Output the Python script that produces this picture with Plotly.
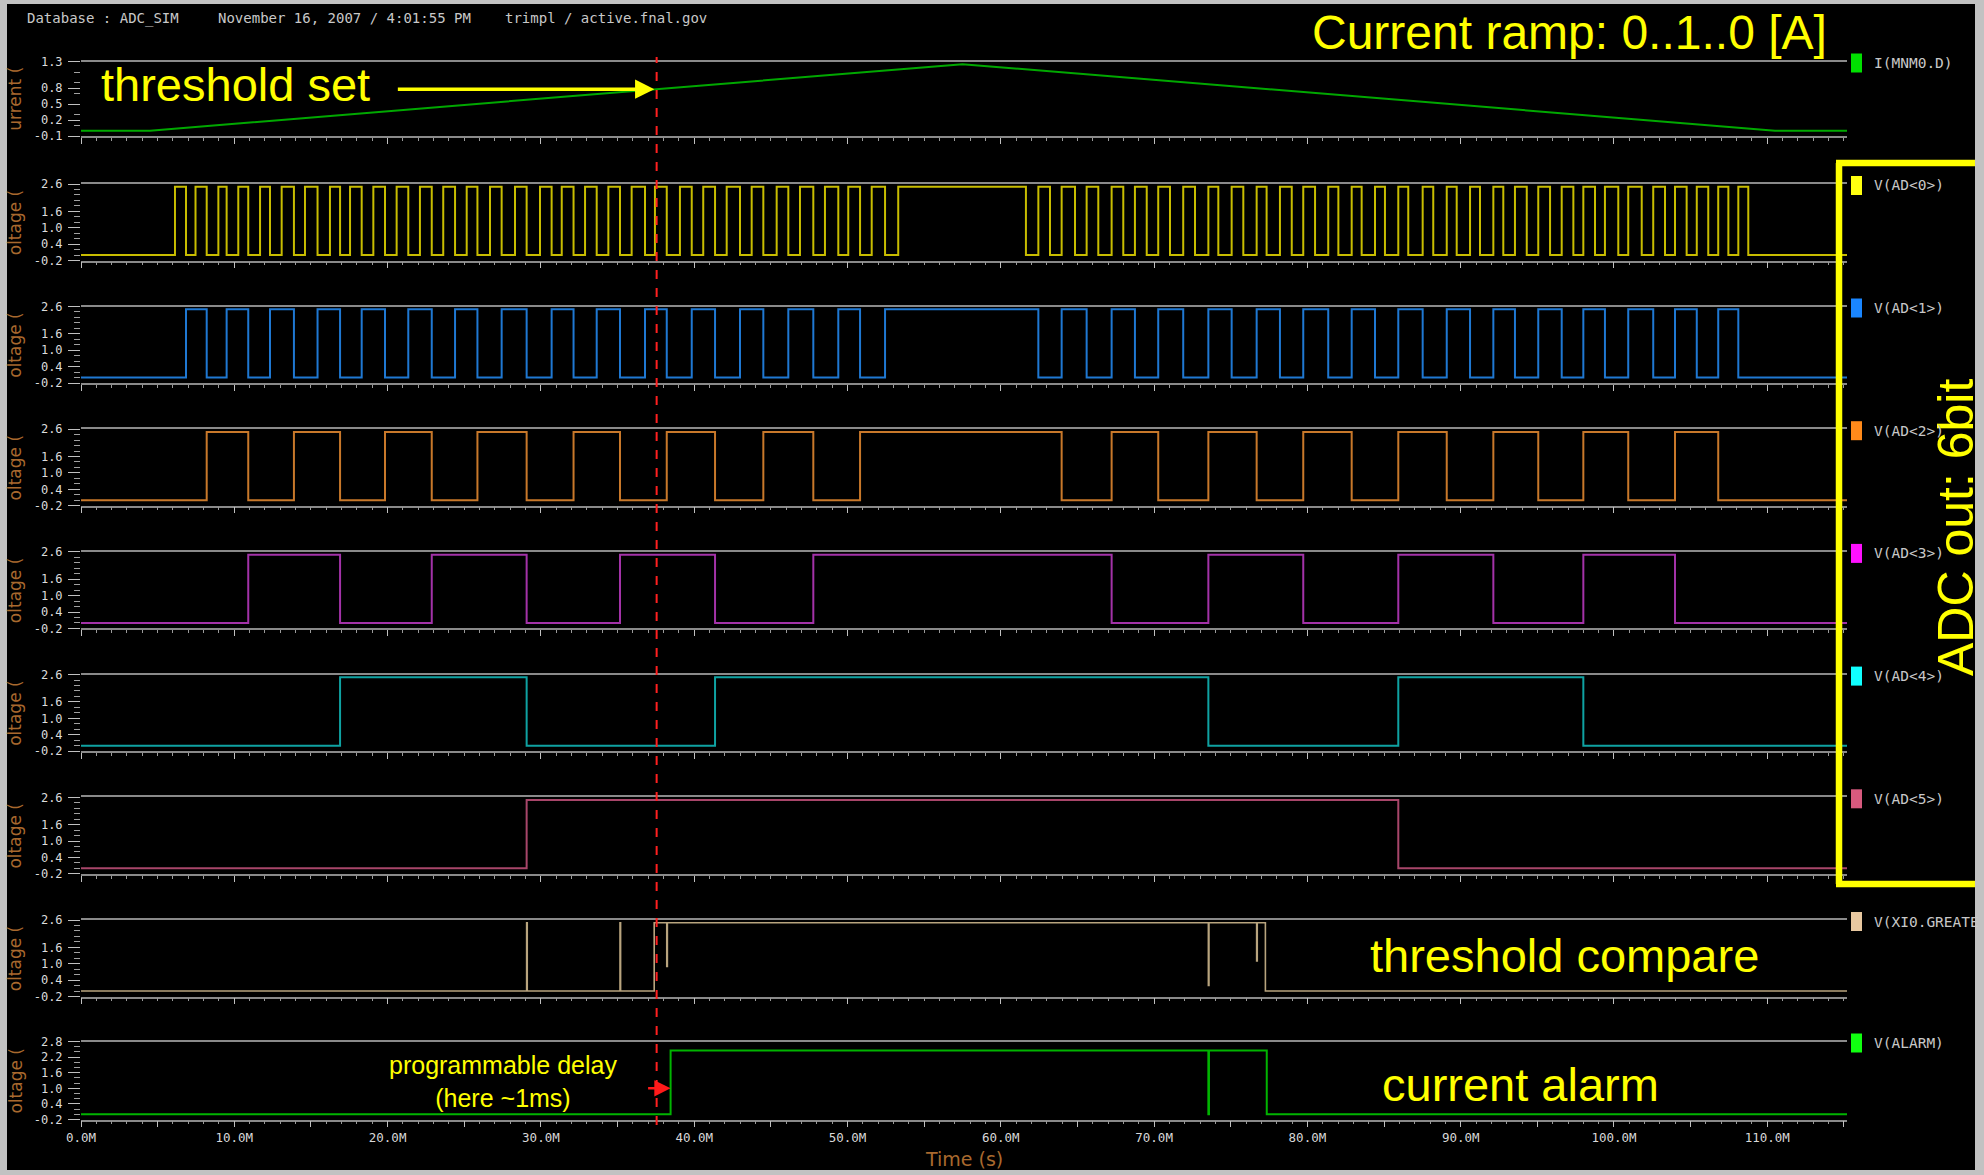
import numpy as np
import plotly.graph_objects as go

W, H = 1984, 1175
T_END = 115.2  # time axis span, in M

# ---------------- data ----------------
# sense current ramp I(MNM0.D) [A]
current_t = [0.0, 4.5, 57.5, 110.5, T_END]
current_a = [0.0, 0.0, 1.25, 0.0, 0.0]

# ADC output bits: toggle times (M) of each bit, every bit starts low
ad0_edges = [6.13, 6.85, 7.47, 8.20, 8.96, 9.50, 10.26, 10.91, 11.68, 12.33, 13.09, 13.89, 14.61,
             15.43, 16.24, 16.90, 17.55, 18.31, 19.07, 19.83, 20.59, 21.35, 22.11, 22.88, 23.63,
             24.40, 25.16, 25.86, 26.68, 27.44, 28.31, 29.07, 29.94, 30.70, 31.36, 32.13, 32.88,
             33.64, 34.40, 35.16, 35.92, 36.79, 37.44, 38.21, 39.07, 39.84, 40.59, 41.36, 42.12,
             42.99, 43.75, 44.51, 45.38, 46.14, 46.90, 47.77, 48.53, 49.40, 50.05, 50.82, 51.58,
             52.45, 53.31,
             61.64, 62.45, 63.21, 63.97, 64.84, 65.60, 66.36, 67.23, 67.99, 68.75, 69.52, 70.27,
             71.04, 71.90, 72.67, 73.54, 74.19, 75.06, 75.82, 76.69, 77.34, 78.21, 78.98, 79.73,
             80.50, 81.36, 82.02, 82.89, 83.54, 84.41, 85.06, 85.93, 86.58, 87.52, 88.21, 89.09,
             89.74, 90.61, 91.26, 92.13, 92.78, 93.54, 94.31, 95.06, 95.83, 96.59, 97.35, 98.00,
             98.76, 99.41, 100.28, 100.93, 101.81, 102.56, 103.33, 103.98, 104.74, 105.40, 106.15,
             106.80, 107.46, 108.11, 108.76]
ad1_edges = [6.85, 8.20, 9.50, 10.91, 12.33, 13.89, 15.43, 16.90, 18.31, 19.83, 21.35, 22.88,
             24.40, 25.86, 27.44, 29.07, 30.70, 32.13, 33.64, 35.16, 36.79, 38.21, 39.84, 41.36,
             42.99, 44.51, 46.14, 47.77, 49.40, 50.82, 52.45,
             62.45, 63.97, 65.60, 67.23, 68.75, 70.27, 71.90, 73.54, 75.06, 76.69, 78.21, 79.73,
             81.36, 82.89, 84.41, 85.93, 87.52, 89.09, 90.61, 92.13, 93.54, 95.06, 96.59, 98.00,
             99.41, 100.93, 102.56, 103.98, 105.40, 106.80, 108.11]
ad2_edges = [8.20, 10.91, 13.89, 16.90, 19.83, 22.88, 25.86, 29.07, 32.13, 35.16, 38.21, 41.36,
             44.51, 47.77, 50.82,
             63.97, 67.23, 70.27, 73.54, 76.69, 79.73, 82.89, 85.93, 89.09, 92.13, 95.06, 98.00,
             100.93, 103.98, 106.80]
ad3_edges = [10.91, 16.90, 22.88, 29.07, 35.16, 41.36, 47.77,
             67.23, 73.54, 79.73, 85.93, 92.13, 98.00, 103.98]
ad4_edges = [16.90, 29.07, 41.36, 73.54, 85.93, 98.00]
ad5_edges = [29.07, 85.93]

V_LOW, V_HIGH = 0.0, 2.5

# threshold comparator output V(XI0.GREATER)
compare_t = [0.0, 29.07, 29.07, 29.11, 29.11, 35.16, 35.16, 35.20, 35.20, 37.39, 37.39, 38.21,
             38.21, 38.25, 38.25, 73.54, 73.54, 73.58, 73.58, 76.69, 76.69, 76.73, 76.73, 77.26,
             77.26, T_END]
compare_v = [0.0, 0.0, 2.5, 2.5, 0.0, 0.0, 2.5, 2.5, 0.0, 0.0, 2.5, 2.5,
             0.9, 0.9, 2.5, 2.5, 0.2, 0.2, 2.5, 2.5, 1.1, 1.1, 2.5, 2.5,
             0.0, 0.0]

# delayed alarm output V(ALARM)
alarm_t = [0.0, 38.46, 38.46, 73.54, 73.54, 73.58, 73.58, 77.35, 77.35, T_END]
alarm_v = [0.0, 0.0, 2.45, 2.45, 0.0, 0.0, 2.45, 2.45, 0.0, 0.0]

threshold_time = 37.55

time_tick_values = [0, 10, 20, 30, 40, 50, 60, 70, 80, 90, 100, 110]
time_tick_labels = ["0.0M", "10.0M", "20.0M", "30.0M", "40.0M", "50.0M", "60.0M",
                    "70.0M", "80.0M", "90.0M", "100.0M", "110.0M"]

signal_names = ["I(MNM0.D)", "V(AD<0>)", "V(AD<1>)", "V(AD<2>)", "V(AD<3>)", "V(AD<4>)",
                "V(AD<5>)", "V(XI0.GREATE", "V(ALARM)"]

# ---------------- styling ----------------
trace_colors = ["#00a800", "#c8bc00", "#1f78d2", "#c8782a", "#a332a8", "#0fa2a2",
                "#a8466a", "#b8a47e", "#00b400"]
marker_colors = ["#00e000", "#ffff10", "#1a86ff", "#ff8a1a", "#ff10ff", "#10ffff",
                 "#d85a7e", "#e8c8a0", "#10ff10"]

X_LEFT, X_RIGHT = 81, 1847
PANEL_TOP = [61.5, 184.0, 306.5, 429.2, 551.9, 674.6, 797.3, 920.0, 1041.5]
PANEL_BOT = [136.0, 260.5, 383.0, 505.7, 628.4, 751.1, 873.8, 996.5, 1119.5]
DIG_TICKS = [-0.2, 0.4, 1.0, 1.6, 2.6]
Y_SETUP = ([([-0.1, 1.3], [-0.1, 0.2, 0.5, 0.8, 1.3], ["-0.1", "0.2", "0.5", "0.8", "1.3"])]
           + [([-0.2, 2.6], DIG_TICKS, ["-0.2", "0.4", "1.0", "1.6", "2.6"])] * 7
           + [([-0.2, 2.8], [-0.2, 0.4, 1.0, 1.6, 2.2, 2.8],
               ["-0.2", "0.4", "1.0", "1.6", "2.2", "2.8"])])
AXIS_GRAY = "#8a8a8a"
TICK_GRAY = "#c0c0c0"
TITLE_BROWN = "#a8692e"
YELLOW = "#ffff00"


def xf(px):
    return px / W


def yf(px):
    return 1 - px / H


def step_wave(edges):
    xs = [0.0] + list(edges) + [T_END]
    ys = [V_HIGH if i % 2 else V_LOW for i in range(len(edges) + 1)]
    ys.append(ys[-1])
    return xs, ys


fig = go.Figure()

# current ramp
fig.add_trace(go.Scatter(x=current_t, y=current_a, mode="lines",
                         line=dict(color=trace_colors[0], width=2),
                         xaxis="x", yaxis="y", hoverinfo="skip"))

# ADC bits
for i, edges in enumerate([ad0_edges, ad1_edges, ad2_edges, ad3_edges, ad4_edges, ad5_edges]):
    xs, ys = step_wave(edges)
    k = i + 2
    fig.add_trace(go.Scatter(x=xs, y=ys, mode="lines", line_shape="hv",
                             line=dict(color=trace_colors[k - 1], width=2),
                             xaxis=f"x{k}", yaxis=f"y{k}", hoverinfo="skip"))

# comparator and alarm
fig.add_trace(go.Scatter(x=compare_t, y=compare_v, mode="lines",
                         line=dict(color=trace_colors[7], width=1.6),
                         xaxis="x8", yaxis="y8", hoverinfo="skip"))
fig.add_trace(go.Scatter(x=alarm_t, y=alarm_v, mode="lines",
                         line=dict(color=trace_colors[8], width=2),
                         xaxis="x9", yaxis="y9", hoverinfo="skip"))

layout = dict(width=W, height=H, margin=dict(l=0, r=0, t=0, b=0, pad=0, autoexpand=False),
              paper_bgcolor="#c2c2c2", plot_bgcolor="#000000", showlegend=False)

x_ticks_all = list(range(0, 116, 5))
for n in range(9):
    k = n + 1
    xa = "xaxis" if k == 1 else f"xaxis{k}"
    ya = "yaxis" if k == 1 else f"yaxis{k}"
    last = (k == 9)
    layout[xa] = dict(
        domain=[xf(X_LEFT), xf(X_RIGHT)], range=[0, T_END], automargin=False,
        anchor="y" if k == 1 else f"y{k}",
        showgrid=False, zeroline=False, showline=True, mirror=True,
        linecolor=AXIS_GRAY, linewidth=1.5,
        tickmode="array", tickvals=x_ticks_all,
        ticktext=[time_tick_labels[time_tick_values.index(v)] if v in time_tick_values else ""
                  for v in x_ticks_all],
        ticks="outside", ticklen=6, tickwidth=1, tickcolor=TICK_GRAY,
        minor=dict(dtick=1, tick0=0, ticks="outside", ticklen=3, tickcolor="#9a9a9a",
                   showgrid=False),
        showticklabels=last,
        tickfont=dict(family="DejaVu Sans Mono", size=12.5, color="#d8d8d8"),
        fixedrange=True,
    )
    yr, tv, tt = Y_SETUP[n]
    layout[ya] = dict(
        domain=[yf(PANEL_BOT[n]), yf(PANEL_TOP[n])], range=yr, automargin=False,
        anchor="x" if k == 1 else f"x{k}",
        showgrid=False, zeroline=False, showline=False,
        tickmode="array", tickvals=tv, ticktext=tt,
        ticks="outside", ticklen=12, tickwidth=1, tickcolor=TICK_GRAY,
        minor=dict(dtick=0.2, tick0=yr[0], ticks="outside", ticklen=6,
                   tickcolor="#a0a0a0", showgrid=False),
        ticklabelstandoff=3,
        tickfont=dict(family="DejaVu Sans Mono", size=12, color="#dcdcdc"),
        fixedrange=True,
    )

shapes = [
    # dark canvas inside the light frame
    dict(type="rect", xref="paper", yref="paper", x0=xf(7), x1=xf(1975), y0=yf(1170), y1=yf(4),
         fillcolor="#000000", line=dict(width=0), layer="below"),
    # threshold marker
    dict(type="line", xref="x", yref="paper", x0=threshold_time, x1=threshold_time,
         y0=yf(1125), y1=yf(57), line=dict(color="#ff2020", width=2, dash="dash"), layer="above"),
]
# yellow frame around the ADC bit legend
for (xa0, ya0, xa1, ya1) in [(1839, 163, 1839, 884), (1836, 163, 1975, 163), (1836, 884, 1975, 884)]:
    shapes.append(dict(type="line", xref="paper", yref="paper", x0=xf(xa0), y0=yf(ya0),
                       x1=xf(xa1), y1=yf(ya1), line=dict(color=YELLOW, width=6.5), layer="above"))
# legend swatches
for n in range(9):
    cy = PANEL_TOP[n] + 1.5
    shapes.append(dict(type="rect", xref="paper", yref="paper",
                       x0=xf(1851), x1=xf(1862), y0=yf(cy + 9.5), y1=yf(cy - 9.5),
                       fillcolor=marker_colors[n], line=dict(width=0), layer="above"))
layout["shapes"] = shapes

ann = []


def text(x, y, s, size, color, family="Liberation Sans", xanchor="center", angle=0):
    ann.append(dict(xref="paper", yref="paper", x=xf(x), y=yf(y), text=s, showarrow=False,
                    xanchor=xanchor, yanchor="middle", textangle=angle,
                    font=dict(family=family, size=size, color=color)))


# header line
text(25, 18, "Database : ADC_SIM", 14, "#c8c8c8", "DejaVu Sans Mono", "left")
text(216, 18, "November 16, 2007 / 4:01:55 PM", 14, "#c8c8c8", "DejaVu Sans Mono", "left")
text(503, 18, "trimpl / active.fnal.gov", 14, "#c8c8c8", "DejaVu Sans Mono", "left")

# large callouts
text(1569, 32, "Current ramp: 0..1..0 [A]", 48, YELLOW)
text(99, 84, "threshold set", 47, YELLOW, xanchor="left")
text(1564, 955, "threshold compare", 47, YELLOW)
text(1520, 1084, "current alarm", 47, YELLOW)
text(503, 1081, "programmable delay<br>(here ~1ms)", 25, YELLOW)
text(1956, 528, "ADC out: 6bit", 50, YELLOW, angle=-90)

# axis titles
text(964, 1159, "Time (s)", 19, TITLE_BROWN, "DejaVu Sans")
for n in range(9):
    cy = (PANEL_TOP[n] + PANEL_BOT[n]) / 2
    text(15, cy, "urrent (" if n == 0 else "oltage (", 17, TITLE_BROWN, "DejaVu Sans", angle=-90)

# legend labels
for n in range(9):
    text(1872, PANEL_TOP[n] + 1.5, signal_names[n], 14.5, "#c8c8c8", "DejaVu Sans Mono", "left")

# arrows
thr_level = float(np.interp(threshold_time, current_t, current_a))
ann.append(dict(xref="x", yref="y", x=threshold_time - 0.15, y=thr_level, text="",
                showarrow=True, axref="pixel", ayref="pixel", ax=-258, ay=0,
                arrowhead=2, arrowsize=1.1, arrowwidth=3.5, arrowcolor=YELLOW, standoff=0))
ann.append(dict(xref="x9", yref="y9", x=alarm_t[1], y=1.0, text="",
                showarrow=True, axref="pixel", ayref="pixel", ax=-24, ay=0,
                arrowhead=2, arrowsize=1.3, arrowwidth=2.5, arrowcolor="#ff1a1a", standoff=0))
layout["annotations"] = ann

fig.update_layout(**layout)
fig.write_html("out.html")
